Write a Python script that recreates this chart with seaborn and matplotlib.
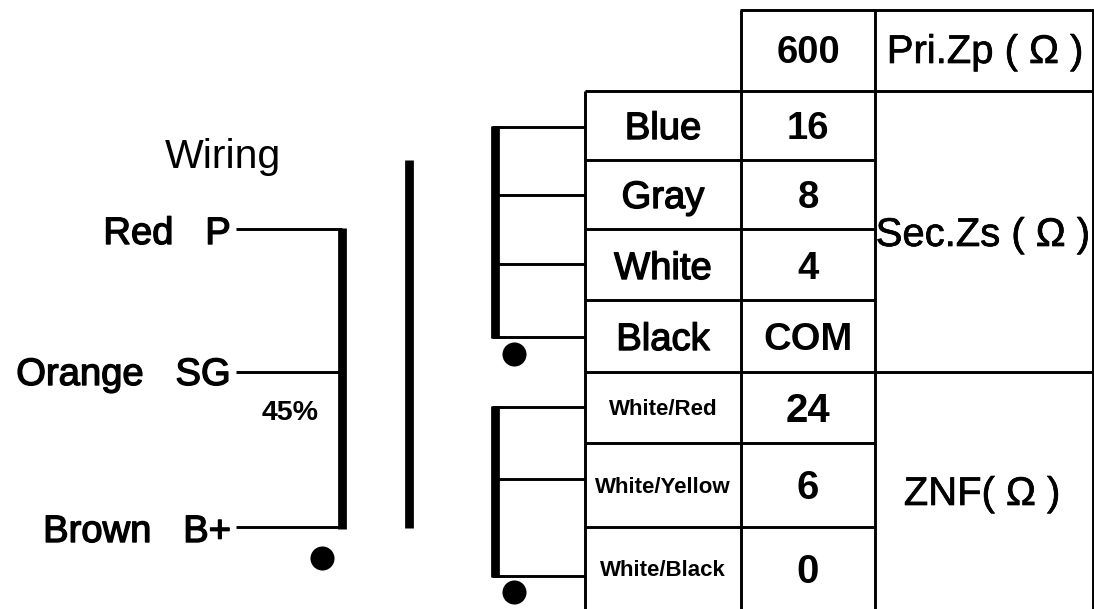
import matplotlib
matplotlib.use('Agg')
import matplotlib.pyplot as plt
import matplotlib.patheffects as pe
import pandas as pd
import seaborn as sns

# textos del esquema
primary_wires = ['Red   P', 'Orange   SG', 'Brown   B+']
sec_colors = ['Blue', 'Gray', 'White', 'Black']
sec_values = ['16', '8', '4', 'COM']
nf_colors = ['White/Red', 'White/Yellow', 'White/Black']
nf_values = ['24', '6', '0']
header_value = '600'
header_title = 'Pri.Zp ( Ω )'
sec_title = 'Sec.Zs ( Ω )'
nf_title = 'ZNF( Ω )'
tap_label = '45%'
title = 'Wiring'

sns.set_theme(style='white')
plt.rcParams['font.family'] = ['Liberation Sans', 'DejaVu Sans']

fig = plt.figure(figsize=(10.94, 6.09), dpi=100)
ax = fig.add_axes([0, 0, 1, 1])

THIN = 2.1
THICK = 6.3


def wire(x, y, lw=THIN):
    ax.plot(x, y, color='black', lw=lw, solid_capstyle='butt', zorder=2)


# rejilla de la tabla
wire([741, 741], [10, 609])
wire([875, 875], [10, 609])
wire([1092.5, 1092.5], [10, 609])
wire([585, 585], [91, 609])
wire([740, 1094], [10, 10])
wire([585, 1094], [91, 91])
for y in [160, 229, 300]:
    wire([585, 875], [y, y])
wire([585, 1094], [372, 372])
for y in [443, 527]:
    wire([585, 875], [y, y])

# devanado primario
wire([236, 342], [229, 229])
wire([236, 342], [372, 372])
wire([236, 342], [527, 527])
wire([342, 342], [228, 529], THICK)
wire([409, 409], [160, 528], THICK)

# devanados secundarios
for y in [127, 195, 264, 337]:
    wire([492, 585], [y, y])
wire([494.5, 494.5], [126, 338], THICK)
for y in [407, 479, 576]:
    wire([492, 585], [y, y])
wire([494.5, 494.5], [406, 577], THICK)

# puntos de fase
dots = pd.DataFrame({'x': [322, 514, 514], 'y': [558, 354, 592]})
sns.scatterplot(data=dots, x='x', y='y', ax=ax, color='black', s=300, linewidth=0,
                legend=False, clip_on=False)
ax.set_xlim(0, 1094)
ax.set_ylim(609, 0)
ax.axis('off')


def label(x, y, s, size=27.5, ha='center', weight='bold', stroke=0):
    t = ax.text(x, y, s, fontsize=size, ha=ha, va='baseline', color='black', fontweight=weight)
    if stroke:
        t.set_path_effects([pe.withStroke(linewidth=stroke, foreground='black')])


label(223, 168, title, size=29.5, weight='normal')
for s, y in zip(primary_wires, [244, 385, 542]):
    label(231, y, s, ha='right', weight='normal', stroke=1)
label(290, 420, tap_label, size=20.5)

for s, v, y in zip(sec_colors, sec_values, [139, 208, 279, 350]):
    label(663, y, s, weight='normal', stroke=1)
    label(808, y, v)
for s, v, y1, y2 in zip(nf_colors, nf_values, [415, 493, 576], [422, 499, 583]):
    label(663, y1, s, size=16)
    label(808, y2, v, size=29)

label(808, 63, header_value)
label(985, 63, header_title, size=28.8, weight='normal', stroke=0.5)
label(983, 246, sec_title, size=28.8, weight='normal', stroke=0.5)
label(982, 505, nf_title, size=28.8, weight='normal', stroke=0.5)

fig.savefig('out.png', dpi=100, facecolor='white')
